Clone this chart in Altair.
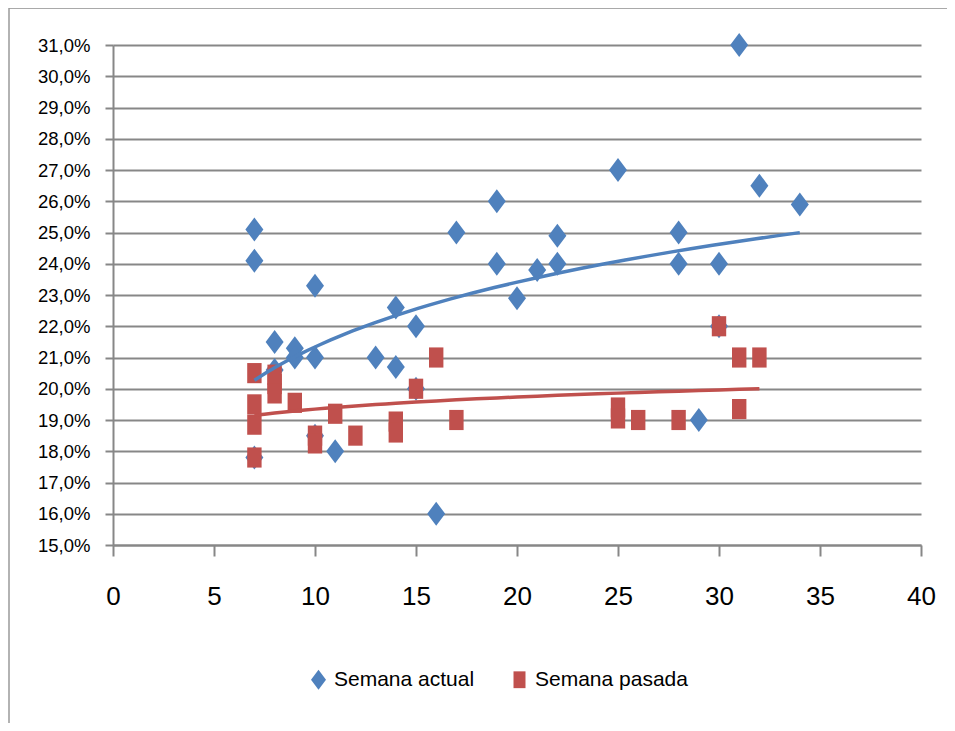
import altair as alt
import pandas as pd

series = ["Semana actual", "Semana pasada"]

actual_x = [7, 7, 7, 8, 8, 9, 9, 10, 10, 10, 11, 13, 14, 14, 15, 15, 16, 17, 19, 19,
            20, 21, 22, 22, 25, 28, 28, 29, 30, 30, 31, 32, 34]
actual_y = [25.1, 24.1, 17.8, 21.5, 20.6, 21.3, 21.0, 21.0, 23.3, 18.5, 18.0, 21.0, 22.6, 20.7,
            22.0, 20.0, 16.0, 25.0, 26.0, 24.0, 22.9, 23.8, 24.9, 24.0, 27.0, 25.0, 24.0, 19.0,
            24.0, 22.0, 31.0, 26.5, 25.9]

pasada_x = [7, 7, 7, 7, 8, 8, 8, 9, 10, 10, 11, 12, 14, 14, 15, 16, 17, 25, 25, 26, 28, 30,
            31, 31, 32]
pasada_y = [20.5, 19.5, 18.85, 17.8, 20.45, 20.15, 19.85, 19.55, 18.5, 18.25, 19.2, 18.5, 18.95,
            18.6, 20.0, 21.0, 19.0, 19.4, 19.05, 19.0, 19.0, 22.0, 21.0, 19.35, 21.0]

x_ticks = [0, 5, 10, 15, 20, 25, 30, 35, 40]
y_ticks = list(range(15, 32))

colors = ["#4F81BD", "#C0504D"]
diamond = "M0,-1L0.75,0L0,1L-0.75,0Z"
square = "M-0.6,-0.84L0.6,-0.84L0.6,0.84L-0.6,0.84Z"

df = pd.DataFrame({
    "x": actual_x + pasada_x,
    "y": actual_y + pasada_y,
    "serie": [series[0]] * len(actual_x) + [series[1]] * len(pasada_x),
})

FONT = "Liberation Sans"
GRID = "#878787"

legend = alt.Legend(
    title=None, orient="none", legendX=195, legendY=624, direction="horizontal",
    labelFont=FONT, labelFontSize=21, labelColor="#000000", symbolSize=400,
    symbolStrokeWidth=0, columnPadding=34, labelOffset=5, padding=0,
)

x_enc = alt.X("x:Q", scale=alt.Scale(domain=[0, 40], nice=False),
              axis=alt.Axis(values=x_ticks, grid=False, title=None, domainColor=GRID,
                            domainWidth=2, tickColor=GRID, tickWidth=2, tickSize=11,
                            labelFont=FONT, labelFontSize=26, labelColor="#000000",
                            labelPadding=27, labelFlush=False, labelOverlap=False))
y_enc = alt.Y("y:Q", scale=alt.Scale(domain=[15, 31], nice=False, zero=False),
              axis=alt.Axis(values=y_ticks, title=None, grid=True, gridColor=GRID,
                            gridWidth=2, gridOpacity=1, domainColor=GRID, domainWidth=2,
                            tickColor=GRID, tickWidth=2, tickSize=8,
                            labelFont=FONT, labelFontSize=18.5, labelColor="#000000",
                            labelPadding=15, labelOverlap=False, labelFlush=False,
                            labelExpr="replace(format(datum.value, '.1f'), '.', ',') + '%'"))

points = alt.Chart(df).mark_point(filled=True, opacity=1, size=576, strokeWidth=0).encode(
    x=x_enc,
    y=y_enc,
    color=alt.Color("serie:N", scale=alt.Scale(domain=series, range=colors), legend=legend),
    shape=alt.Shape("serie:N", scale=alt.Scale(domain=series, range=[diamond, square]),
                    legend=legend),
)

def trend(name, color):
    return alt.Chart(df).transform_filter(
        alt.datum.serie == name
    ).transform_regression("x", "y", method="log").mark_line(
        color=color, strokeWidth=3.5
    ).encode(x=x_enc, y=y_enc)

# chart-area border (only the top and left edges are visible in the reference)
frame = alt.Data(values=[{}])
border_top = alt.Chart(frame).mark_rule(color="#8c8c8c", strokeWidth=1.5).encode(
    x=alt.value(-104), x2=alt.value(860), y=alt.value(-37))
border_left = alt.Chart(frame).mark_rule(color="#9a9a9a", strokeWidth=1.5).encode(
    x=alt.value(-104), y=alt.value(-37), y2=alt.value(700))

chart = alt.layer(
    border_top,
    border_left,
    points,
    trend(series[0], colors[0]),
    trend(series[1], colors[1]),
).properties(
    width=808, height=500,
    padding={"left": 105, "top": 37, "right": 26, "bottom": 178},
    autosize=alt.AutoSizeParams(type="none"),
    background="#ffffff",
).configure_view(stroke=None)

chart.save("out.html", embed_options={"renderer": "svg", "actions": False})
